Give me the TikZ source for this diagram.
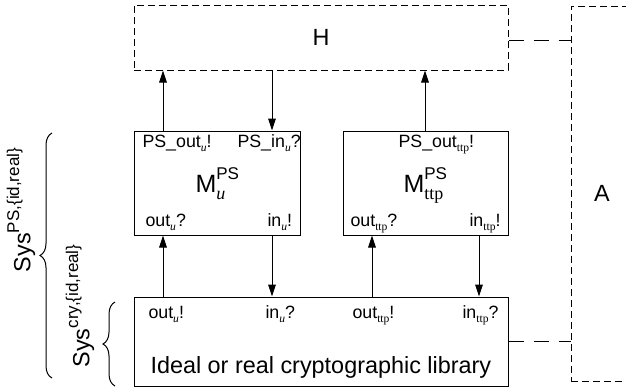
\documentclass[tikz,border=0pt]{standalone}
\usepackage{fontspec}
\setmainfont{Liberation Sans}
\newfontfamily\idxfont{Liberation Serif}
\usetikzlibrary{arrows.meta,fit,decorations.pathreplacing}

\newcommand{\portsub}[1]{\raisebox{-0.5ex}{\fontsize{5.8}{5.8}\selectfont\idxfont #1}}
\newcommand{\usub}{\portsub{\itshape u}}
\newcommand{\ttpsub}{\portsub{ttp}}
\newcommand{\machine}[1]{M\rlap{\raisebox{0.95ex}{\fontsize{8.5}{8.5}\selectfont PS}}\raisebox{-0.6ex}{\fontsize{9}{9}\selectfont\idxfont #1}}
\newcommand{\sysname}[1]{Sys\raisebox{0.9ex}{\fontsize{8.5}{8.5}\selectfont #1}}

\begin{document}
\begin{tikzpicture}[
    x=0.5pt, y=-0.5pt,
    line width=0.5pt,
    box/.style={draw, inner sep=0pt},
    dashbox/.style={box, dash pattern=on 3.5pt off 2pt},
    link/.style={dash pattern=on 7.5pt off 5pt},
    flow/.style={-{Triangle[length=6pt,width=3.8pt]}},
    port/.style={font=\fontsize{8.9}{10}\selectfont, inner sep=0pt, anchor=base west},
    bigtext/.style={font=\fontsize{11.7}{14}\selectfont, inner sep=0pt},
    sysbrace/.style={decorate, decoration={brace, amplitude=6pt}}]
    \useasboundingbox (0,0) rectangle (626,388);
    % BOXES
    \node[dashbox, fit={(134,5) (508,70)}] (H) {};
    \node[dashbox, fit={(571,6) (660,381)}] (A) {};
    \node[box, fit={(134,131) (300,235)}] (Mu) {};
    \node[box, fit={(343,131) (508,235)}] (Mttp) {};
    \node[box, fit={(134,297) (508,386)}] (lib) {};

    % NAMES
    \node[bigtext] (Hname) at (H.center) {H};
    \node[bigtext] (Aname) at (602,193) {A};
    \node[bigtext, anchor=base west] (libname) at (150,373) {Ideal or real cryptographic library};
    \node[anchor=base west, inner sep=0pt, font=\fontsize{12.5}{15}\selectfont] (Muname) at (195,192) {\machine{\itshape u}};
    \node[anchor=base west, inner sep=0pt, font=\fontsize{12.5}{15}\selectfont] (Mttpname) at (403,192) {\machine{ttp}};

    % PORTS
    \node[port] (psoutu) at (142,147) {PS\_out\usub!};
    \node[port] (psinu) at (237,147) {PS\_in\usub?};
    \node[port] (outuq) at (145,226) {out\usub?};
    \node[port] (inux) at (267,226) {in\usub!};
    \node[port] (psoutttp) at (398,147) {PS\_out\ttpsub!};
    \node[port] (outttpq) at (350,226) {out\ttpsub?};
    \node[port] (inttpx) at (469,226) {in\ttpsub!};
    \node[port] (outux) at (148,318) {out\usub!};
    \node[port] (inuq) at (265,318) {in\usub?};
    \node[port] (outttpx) at (352,318) {out\ttpsub!};
    \node[port] (inttpq) at (462,318) {in\ttpsub?};

    % ARROWS
    \coordinate (xu1) at (163,0);
    \coordinate (xu2) at (272,0);
    \coordinate (xt0) at (425,0);
    \coordinate (xt1) at (372,0);
    \coordinate (xt2) at (479,0);
    \draw[flow] (Mu.north -| xu1) -- (H.south -| xu1);
    \draw[flow] (H.south -| xu2) -- (Mu.north -| xu2);
    \draw[flow] (Mttp.north -| xt0) -- (H.south -| xt0);
    \draw[flow] (lib.north -| xu1) -- (Mu.south -| xu1);
    \draw[flow] (Mu.south -| xu2) -- (lib.north -| xu2);
    \draw[flow] (lib.north -| xt1) -- (Mttp.south -| xt1);
    \draw[flow] (Mttp.south -| xt2) -- (lib.north -| xt2);
    \coordinate (hlink) at (0,40);
    \draw[link] (H.east |- hlink) -- (A.west |- hlink);
    \draw[link] (lib.east) -- (A.west |- lib.east);

    % BRACES
    \coordinate (psbot) at (52,378);
    \coordinate (pstop) at (52,133);
    \coordinate (crybot) at (115,386);
    \coordinate (crytop) at (115,302);
    \draw[sysbrace] (psbot) -- (pstop);
    \draw[sysbrace] (crybot) -- (crytop);
    \node[bigtext, rotate=90] (sysps) at (21,210) {\sysname{PS,\{id,real\}}};
    \node[bigtext, rotate=90] (syscry) at (80,306) {\sysname{cry,\{id,real\}}};
\end{tikzpicture}
\end{document}
